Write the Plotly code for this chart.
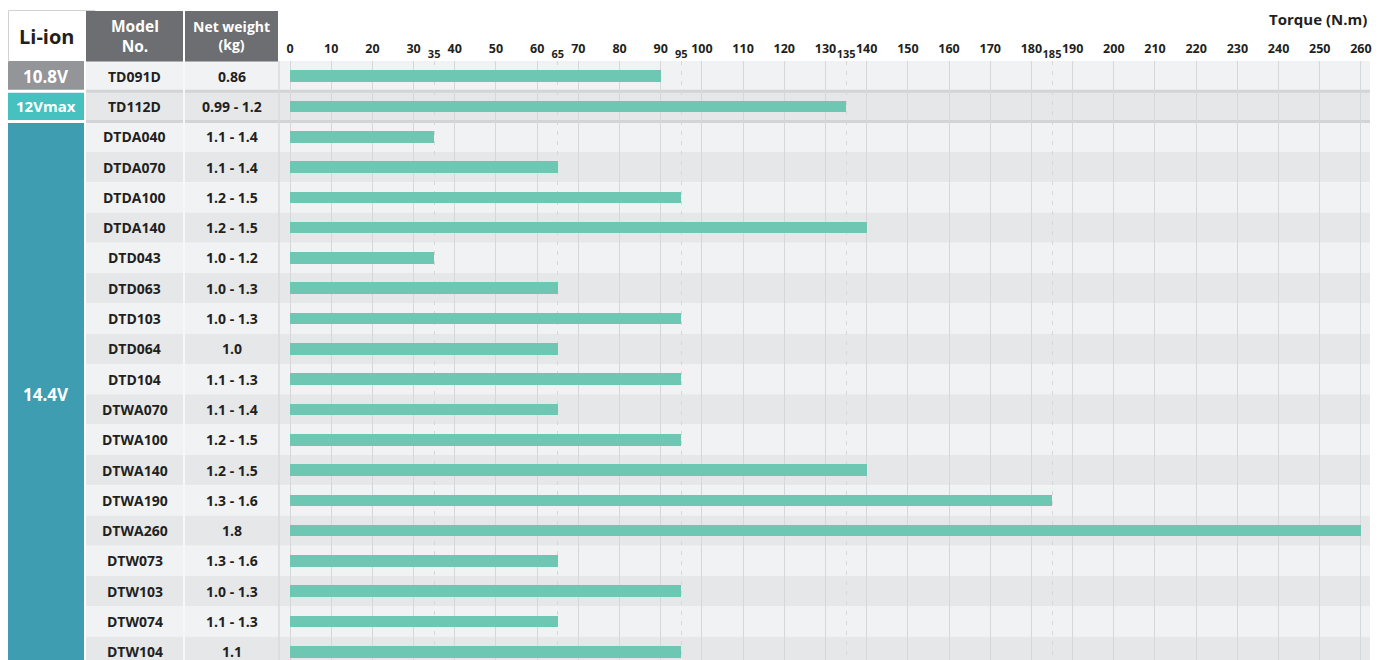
import plotly.graph_objects as go

# ---------------- data ----------------
voltage_groups = ["10.8V", "12Vmax", "14.4V"]
voltage_sizes = [1, 1, 18]
models = ["TD091D", "TD112D", "DTDA040", "DTDA070", "DTDA100", "DTDA140",
          "DTD043", "DTD063", "DTD103", "DTD064", "DTD104", "DTWA070",
          "DTWA100", "DTWA140", "DTWA190", "DTWA260", "DTW073", "DTW103",
          "DTW074", "DTW104"]
weights = ["0.86", "0.99 - 1.2", "1.1 - 1.4", "1.1 - 1.4", "1.2 - 1.5",
           "1.2 - 1.5", "1.0 - 1.2", "1.0 - 1.3", "1.0 - 1.3", "1.0",
           "1.1 - 1.3", "1.1 - 1.4", "1.2 - 1.5", "1.2 - 1.5", "1.3 - 1.6",
           "1.8", "1.3 - 1.6", "1.0 - 1.3", "1.1 - 1.3", "1.1"]
torque = [90, 135, 35, 65, 95, 140, 35, 65, 95, 65, 95, 65, 95, 140, 185,
          260, 65, 95, 65, 95]
major_ticks = [0, 10, 20, 30, 40, 50, 60, 70, 80, 90, 100, 110, 120, 130,
               140, 150, 160, 170, 180, 190, 200, 210, 220, 230, 240, 250, 260]
minor_ticks = [35, 65, 95, 135, 185]

# ---------------- geometry (pixels) ----------------
W, H = 1394, 660
PL, PR, PT, PB = 8, 1370, 61, 660
X_ZERO_PX = 290
K = 4.119          # px per N.m
ROW_PX = 30.3

def px2x(px):
    return (px - X_ZERO_PX) / K

def px2px_paper(px):
    return (px - PL) / (PR - PL)

def py2paper(py):
    return (PB - py) / (PB - PT)

x_range = [px2x(PL), px2x(PR)]
y_bottom = (PB - PT) / ROW_PX - 0.5
y_range = [y_bottom, -0.5]

FONT = "Open Sans"
DARK = "#231f20"
LIGHT_ROW = "#f1f2f4"
DARK_ROW = "#e6e7e9"
GRID = "#d6d7da"
BAR = "#6dc7b3"
VCOLORS = {"10.8V": "#939598", "12Vmax": "#46c1c0", "14.4V": "#3f9db1"}

fig = go.Figure()
fig.add_trace(go.Bar(
    x=torque, y=models, orientation="h", width=0.38,
    marker=dict(color=BAR, line=dict(width=0)),
    hoverinfo="x+y", showlegend=False,
))
# empty trace so that the secondary (dashed reference) axis is drawn
fig.add_trace(go.Scatter(x=[], y=[], xaxis="x2", yaxis="y",
                         mode="markers", showlegend=False, hoverinfo="skip"))

shapes = []
annotations = []

def ann(**kw):
    kw.setdefault("showarrow", False)
    kw.setdefault("xanchor", "center")
    kw.setdefault("yanchor", "middle")
    annotations.append(kw)

# row backgrounds
for i, m in enumerate(models):
    shapes.append(dict(type="rect", xref="x", yref="y", layer="below",
                       x0=px2x(86), x1=x_range[1], y0=i - 0.5, y1=i + 0.5,
                       fillcolor=LIGHT_ROW if i % 2 == 0 else DARK_ROW,
                       line=dict(width=0)))
# group separators and voltage cells
start = 0
for g, n in zip(voltage_groups, voltage_sizes):
    end = start + n
    if end < len(models):
        shapes.append(dict(type="line", xref="x", yref="y", layer="below",
                           x0=px2x(86), x1=x_range[1], y0=end - 0.5, y1=end - 0.5,
                           line=dict(color="#d3d4d6", width=3)))
    shapes.append(dict(type="rect", xref="x", yref="y", layer="below",
                       x0=px2x(PL), x1=px2x(84),
                       y0=start - 0.5 + (0.05 if start > 0 else 0),
                       y1=end - 0.5 - (0.05 if end < len(models) else -1),
                       fillcolor=VCOLORS[g], line=dict(width=0)))
    big = g != "12Vmax"
    ann(xref="x", yref="y", x=px2x(46), y=(start + end - 1) / 2, text=g,
        font=dict(family=FONT, size=17 if big else 15, color="white", weight=700))
    start = end

# column separators inside the table
shapes.append(dict(type="line", xref="x", yref="y", layer="below",
                   x0=px2x(184), x1=px2x(184), y0=-0.5, y1=y_bottom + 1,
                   line=dict(color="#f7f7f8", width=2)))
shapes.append(dict(type="line", xref="x", yref="y", layer="below",
                   x0=px2x(279), x1=px2x(279), y0=-0.5, y1=y_bottom + 1,
                   line=dict(color="#d9dadd", width=1.5)))

# row texts
for i, (m, w) in enumerate(zip(models, weights)):
    ann(xref="x", yref="y", x=px2x(134.5), y=i, text=m,
        font=dict(family=FONT, size=14, color=DARK, weight=700))
    ann(xref="x", yref="y", x=px2x(231.5), y=i, text=w,
        font=dict(family=FONT, size=14, color=DARK, weight=700))

# header
shapes.append(dict(type="path", xref="paper", yref="paper", layer="above",
                   path="M {a},{b} L {a},{c} L {d},{c}".format(
                       a=px2px_paper(8.5), b=py2paper(61.5),
                       c=py2paper(10.5), d=px2px_paper(95)),
                   line=dict(color="#d1d2d4", width=1)))
shapes.append(dict(type="rect", xref="paper", yref="paper",
                   x0=px2px_paper(86), x1=px2px_paper(183),
                   y0=py2paper(61.5), y1=py2paper(11),
                   fillcolor="#6d6e71", line=dict(width=0)))
shapes.append(dict(type="rect", xref="paper", yref="paper",
                   x0=px2px_paper(185), x1=px2px_paper(278),
                   y0=py2paper(61.5), y1=py2paper(11),
                   fillcolor="#6d6e71", line=dict(width=0)))
ann(xref="paper", yref="paper", x=px2px_paper(46), y=py2paper(37), text="Li-ion",
    font=dict(family=FONT, size=20, color=DARK, weight=700))
ann(xref="paper", yref="paper", x=px2px_paper(134.5), y=py2paper(36),
    text="Model<br>No.",
    font=dict(family=FONT, size=15.5, color="white", weight=700))
ann(xref="paper", yref="paper", x=px2px_paper(231.5), y=py2paper(36),
    text="Net weight<br>(kg)",
    font=dict(family=FONT, size=14, color="white", weight=700))
ann(xref="paper", yref="paper", x=px2px_paper(1369), y=py2paper(19),
    text="Torque (N.m)", xanchor="right",
    font=dict(family=FONT, size=15, color=DARK, weight=700))

fig.update_layout(
    width=W, height=H,
    margin=dict(l=PL, r=W - PR, t=PT, b=H - PB, pad=0),
    paper_bgcolor="white", plot_bgcolor="white",
    bargap=0, showlegend=False,
    shapes=shapes, annotations=annotations,
    xaxis=dict(side="top", range=x_range, tickvals=major_ticks,
               ticktext=[str(t) for t in major_ticks], ticks="",
               showgrid=True, gridcolor=GRID, gridwidth=1.2,
               zeroline=False, showline=False, ticklabelstandoff=5,
               tickfont=dict(family=FONT, size=12.5, color=DARK, weight=700),
               fixedrange=True),
    xaxis2=dict(side="top", overlaying="x", anchor="y", range=x_range,
                tickvals=minor_ticks, ticktext=[str(t) for t in minor_ticks],
                ticks="", showgrid=True, gridcolor="#d6d7d9", gridwidth=1,
                griddash="4px,6px", zeroline=False, showline=False,
                ticklabelstandoff=0,
                tickfont=dict(family=FONT, size=11, color=DARK, weight=700),
                fixedrange=True),
    yaxis=dict(type="category", categoryorder="array", categoryarray=models,
               range=y_range, visible=False, fixedrange=True),
)

fig.write_html("out.html",
               config={"displayModeBar": False},
               post_script="document.body.style.margin='0';"
                           "document.body.style.overflow='hidden';")
